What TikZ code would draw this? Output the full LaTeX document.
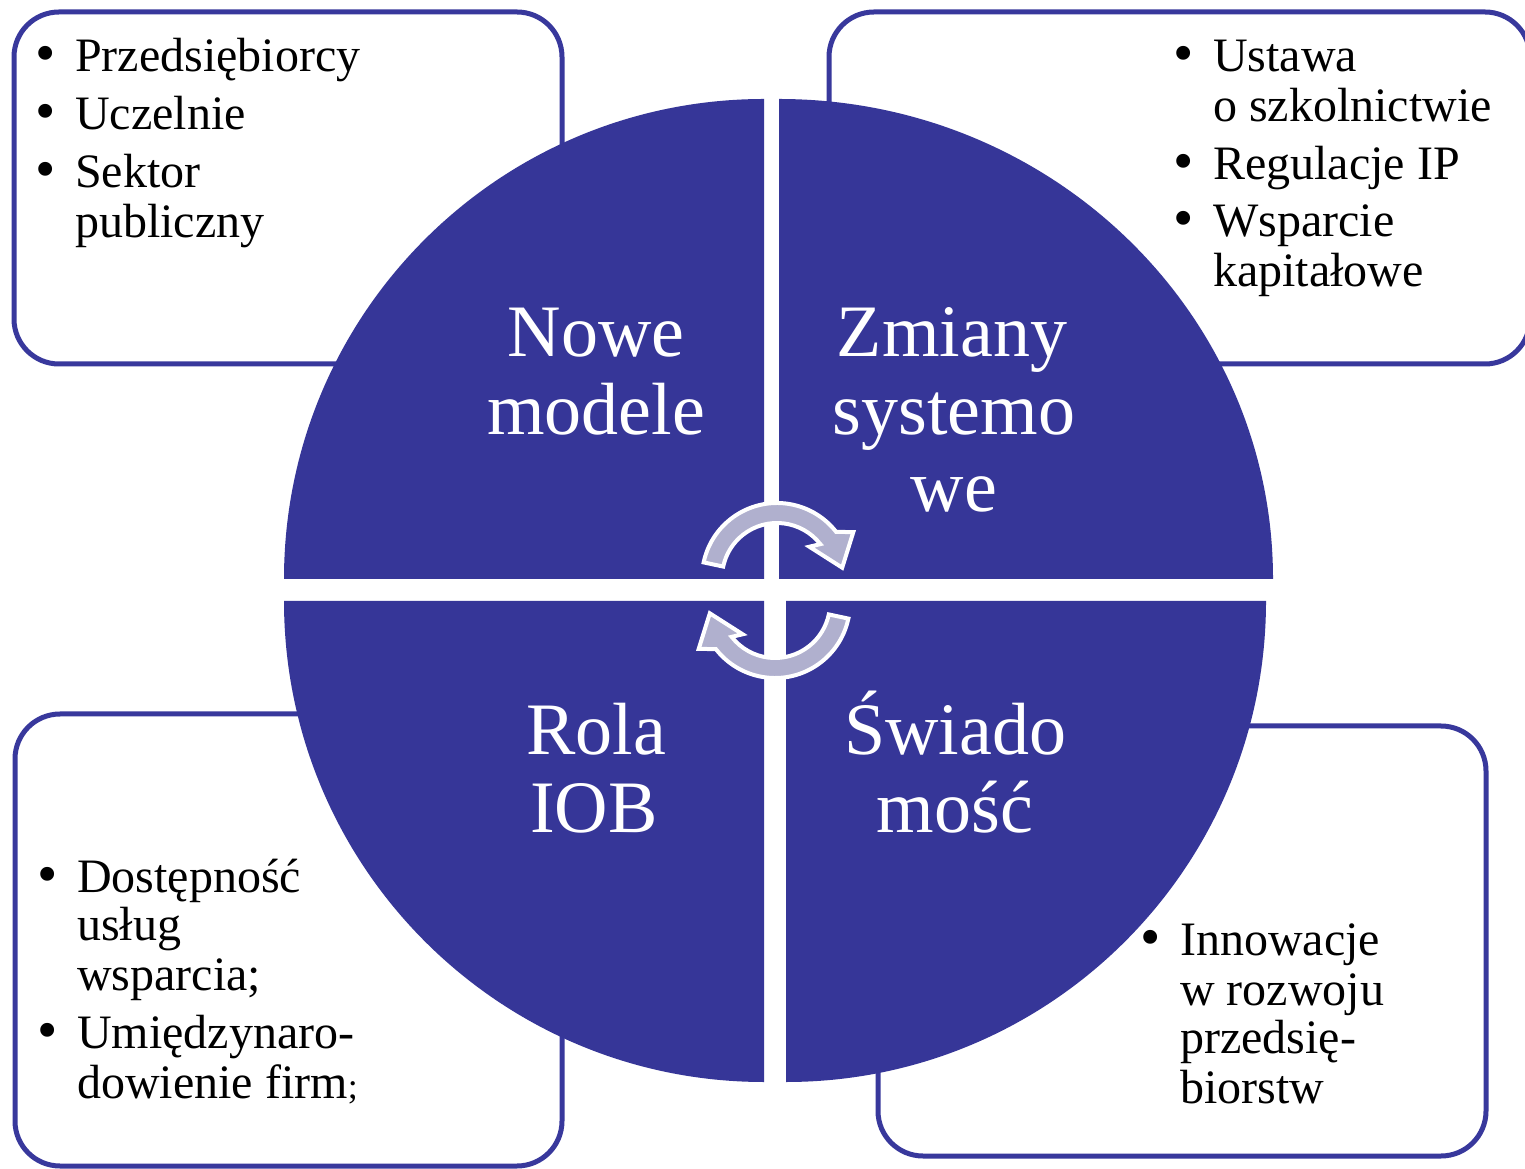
\documentclass[tikz,border=0pt]{standalone}
\usepackage{fontspec}
\setmainfont{Liberation Serif}
\definecolor{qblue}{RGB}{54,54,152}
\definecolor{bblue}{RGB}{56,56,156}
\definecolor{arrfill}{RGB}{176,176,206}
\tikzset{
  boxline/.style={draw=bblue, line width=5pt, fill=white, rounded corners=45pt},
  quad/.style={fill=qblue},
  small/.style={font=\fontsize{48}{50}\selectfont, text=black, inner sep=0pt, anchor=base west},
  big/.style={font=\fontsize{74}{78}\selectfont, text=white, inner sep=0pt, anchor=base},
  cyc/.style={fill=arrfill, draw=white, line width=4pt, line join=miter},
}
\newcommand{\bul}{\llap{\raisebox{-1pt}{\fontsize{58}{58}\selectfont\textbullet}\hspace{19pt}}}
\begin{document}
\begin{tikzpicture}[x=1pt,y=1pt]
\useasboundingbox (0,0) rectangle (1525,1168);
\fill[white] (0,0) rectangle (1525,1168);
% boxes
\draw[boxline] (14,804) rectangle (562,1156);
\draw[boxline] (829,804) rectangle (1530,1156);
\draw[boxline] (15,2) rectangle (562,454);
\draw[boxline] (878,12) rectangle (1486,442);
% quadrants
\fill[quad] (764,589) -- (284,589) arc[start angle=180, end angle=90, x radius=480, y radius=480] -- cycle;
\fill[quad] (779,589) -- (779,1069) arc[start angle=90, end angle=0, x radius=494, y radius=480] -- cycle;
\fill[quad] (764,567) -- (284,567) arc[start angle=180, end angle=270, x radius=480, y radius=481] -- cycle;
\fill[quad] (786,567) -- (786,86) arc[start angle=270, end angle=360, x radius=480, y radius=481] -- cycle;
% cycle arrows
\begin{scope}[shift={(777,590)}]
\path[cyc] (168:75) arc[start angle=168, end angle=38, radius=75] -- (31:89) -- (9:66) -- (44:45) -- (38:55) arc[start angle=38, end angle=168, radius=55] -- cycle;
\end{scope}
\begin{scope}[shift={(775,565)}]
\path[cyc] (-12:75) arc[start angle=-12, end angle=-142, radius=75] -- (-149:89) -- (-171:66) -- (-136:45) -- (-142:55) arc[start angle=-142, end angle=-12, radius=55] -- cycle;
\end{scope}
% top-left list
\node[small] (tl1) at (75,1096) {\bul Przedsiębiorcy};
\node[small] (tl2) at (75,1038) {\bul Uczelnie};
\node[small] (tl3) at (75,980) {\bul Sektor};
\node[small] (tl4) at (75,930) {publiczny};
% top-right list
\node[small] (tr1) at (1213,1096) {\bul Ustawa};
\node[small] (tr2) at (1213,1046) {o szkolnictwie};
\node[small] (tr3) at (1213,988) {\bul Regulacje IP};
\node[small] (tr4) at (1213,931) {\bul Wsparcie};
\node[small] (tr5) at (1213,881) {kapitałowe};
% bottom-left list
\node[small] (bl1) at (77,276) {\bul Dostępność};
\node[small] (bl2) at (77,228) {usług};
\node[small] (bl3) at (77,178) {wsparcia;};
\node[small] (bl4) at (77,120) {\bul Umiędzynaro-};
\node[small] (bl5) at (77,70) {dowienie firm{\fontsize{36}{36}\selectfont;}};
% bottom-right list
\node[small] (br1) at (1180,213) {\bul Innowacje};
\node[small] (br2) at (1180,163) {w rozwoju};
\node[small] (br3) at (1180,115) {przedsię-};
\node[small] (br4) at (1180,65) {biorstw};
% quadrant titles
\node[big] (q1a) at (596,811) {Nowe};
\node[big] (q1b) at (596,733) {modele};
\node[big] (q2a) at (952,811) {Zmiany};
\node[big] (q2b) at (954,733) {systemo};
\node[big] (q2c) at (954,656) {we};
\node[big] (q3a) at (596,413) {Rola};
\node[big] (q3b) at (594,336) {IOB};
\node[big] (q4a) at (955,413) {Świado};
\node[big] (q4b) at (955,336) {mość};
\end{tikzpicture}
\end{document}
